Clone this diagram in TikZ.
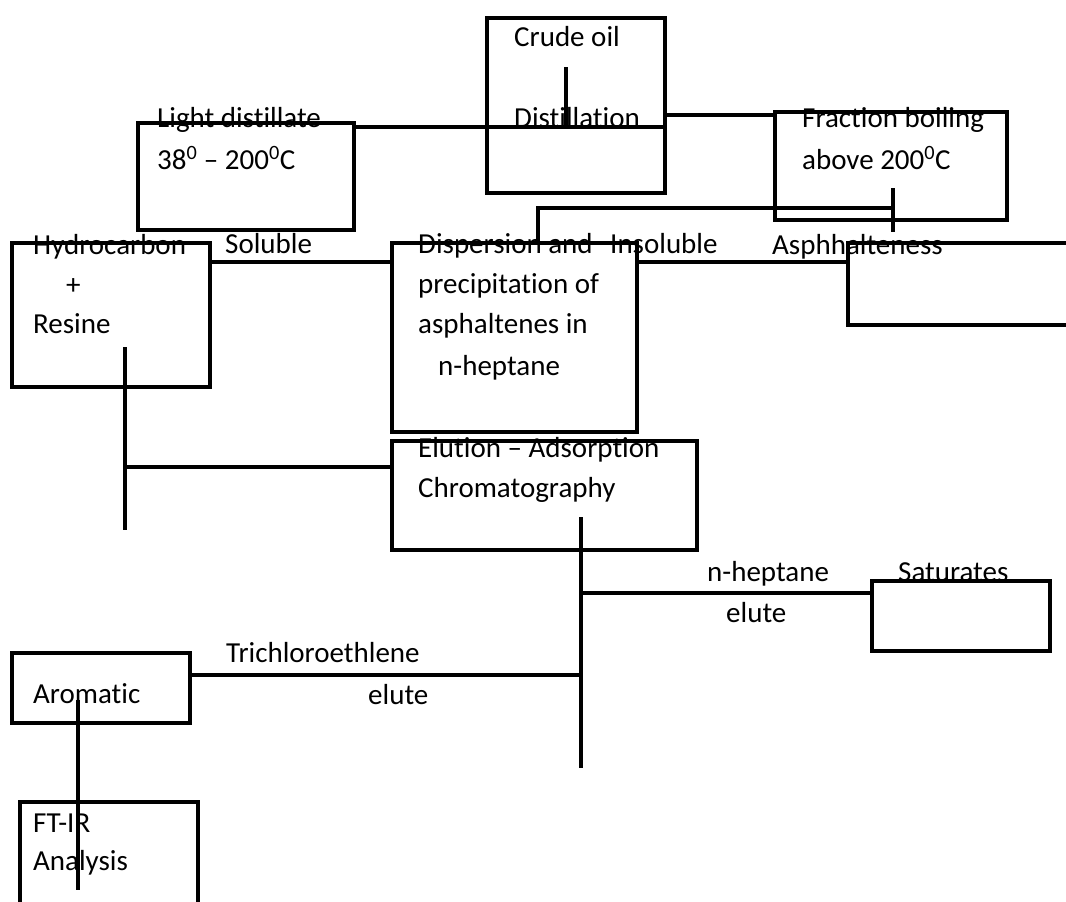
\documentclass[tikz,border=0pt]{standalone}
\usepackage{fontspec}
\setmainfont{Carlito}[Ligatures=NoCommon]

\begin{document}
\begin{tikzpicture}[x=1pt,y=-1pt,
	box/.style={draw, line width=4.5pt, rectangle, inner sep=0pt},
	txt/.style={anchor=base west, inner sep=0pt, font=\fontsize{29}{33}\selectfont},
	link/.style={line width=4.5pt}]
				\useasboundingbox (0,0) rectangle (1066,902);
				
				% boxes
				\node [box, minimum width=178pt, minimum height=175pt] (crude) at (576,105.5) {};
				\node [box, minimum width=216pt, minimum height=107pt] (light) at (246,176.5) {};
				\node [box, minimum width=232pt, minimum height=108pt] (frac) at (891,166) {};
				\node [box, minimum width=198pt, minimum height=144pt] (hydro) at (111,315) {};
				\node [box, minimum width=245pt, minimum height=189pt] (disp) at (514.5,337.5) {};
				\node [box, minimum width=250pt, minimum height=82pt] (asph) at (973,284) {};
				\node [box, minimum width=305pt, minimum height=109pt] (elut) at (544.5,495.5) {};
				\node [box, minimum width=178pt, minimum height=70pt] (satu) at (961,616) {};
				\node [box, minimum width=178pt, minimum height=70pt] (arom) at (101,688) {};
				\node [box, minimum width=178pt, minimum height=130pt] (ftir) at (109,867) {};
				
				% texts
				\node [txt] (tcrude) at (514,46) {Crude oil};
				\node [txt] (tdist) at (514,127) {Distillation};
				\node [txt] (tlight) at (157,127) {Light distillate};
				\node [txt] (trange) at (157,169) {38\textsuperscript{0} -- 200\textsuperscript{0}C};
				\node [txt] (tfrac) at (802,127) {Fraction boiling};
				\node [txt] (tabove) at (802,169) {above 200\textsuperscript{0}C};
				\node [txt] (thydro) at (33,254) {Hydrocarbon};
				\node [txt] (tplus) at (66,294) {+};
				\node [txt] (tresin) at (33,333) {Resine};
				\node [txt] (tsolu) at (225,253) {Soluble};
				\node [txt] (tdisp) at (418,253) {Dispersion and};
				\node [txt] (tinsol) at (610,253) {Insoluble};
				\node [txt] (tprec) at (418,293) {precipitation of};
				\node [txt] (tasin) at (418,333) {asphaltenes in};
				\node [txt] (thept) at (438,375) {n-heptane};
				\node [txt] (tasph) at (772,254) {Asphhalteness};
				\node [txt] (telut) at (418,457) {Elution -- Adsorption};
				\node [txt] (tchrom) at (418,497) {Chromatography};
				\node [txt] (tnhep) at (707,581) {n-heptane};
				\node [txt] (tsat) at (898,581) {Saturates};
				\node [txt] (tel1) at (726,622) {elute};
				\node [txt] (ttri) at (226,662) {Trichloroethlene};
				\node [txt] (tel2) at (368,704) {elute};
				\node [txt] (tarom) at (33,703) {Aromatic};
				\node [txt] (tftir) at (33,832) {FT-IR};
				\node [txt] (tanal) at (33,870) {Analysis};
				
				% connectors
				\coordinate (feed) at (566,67);
				\coordinate (heavy) at (893,208);
				\coordinate (hrtop) at (125,347);
				\coordinate (eltop) at (581,517);
				\coordinate (artop) at (78,700);
				
				\draw [link] (feed) -- (feed |- tdist.base);
				\draw [link] (light.east |- tdist.base) -- (crude.east |- tdist.base);
				\draw [link] (crude.east |- 0,115) -- (frac.west |- 0,115);
				\draw [link] (disp.north -| 538,0) |- (heavy);
				\draw [link] (heavy) ++(0,-20) -- ++(0,44);
				\draw [link] (hydro.east |- 0,262) -- (disp.west |- 0,262);
				\draw [link] (disp.east |- 0,262) -- (asph.west |- 0,262);
				\draw [link] (hrtop) -- (hrtop |- 0,530);
				\draw [link] (hrtop |- 0,467) -- (elut.west |- 0,467);
				\draw [link] (eltop) -- (eltop |- 0,768);
				\draw [link] (eltop |- 0,593) -- (satu.west |- 0,593);
				\draw [link] (arom.east |- 0,675) -- (eltop |- 0,675);
				\draw [link] (artop) -- (artop |- 0,890);
\end{tikzpicture}
\end{document}
